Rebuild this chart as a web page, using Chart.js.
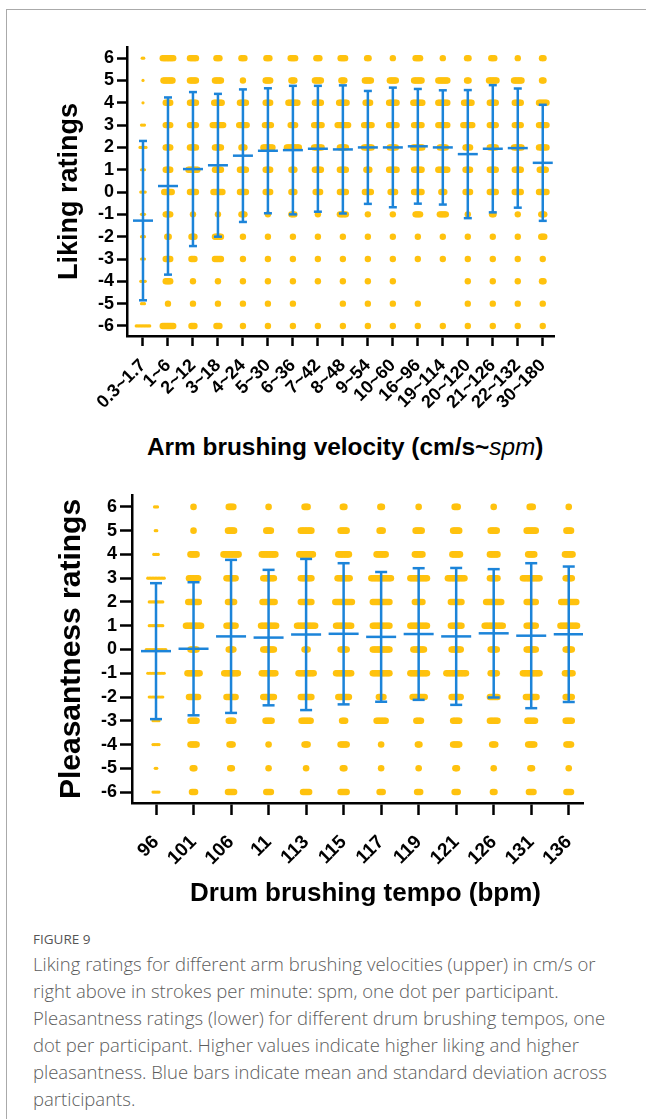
<!DOCTYPE html>
<html>
<head>
<meta charset="utf-8">
<script src="https://cdn.jsdelivr.net/npm/chart.js@4"></script>
<style>
  body { margin: 0; background: #fff; width: 646px; height: 1119px; position: relative; overflow: hidden; font-family: Arial, "Liberation Sans", sans-serif; }
  #frame { position: absolute; left: 6px; top: 9px; width: 640px; height: 1120px; border-top: 1.5px solid #aaa; border-left: 1.5px solid #aaa; }
  canvas { position: absolute; left: 0; }
  #top { top: 0; }
  #bottom { top: 460px; }
  .xtitle { position: absolute; font-weight: bold; color: #000; white-space: nowrap; }
  .xtitle i { font-weight: normal; }
  #caption { position: absolute; left: 33px; top: 930px; font-family: "Open Sans", Lato, sans-serif; color: #5c5c5c; }
  #caption .fig { font-size: 13.5px; color: #555; font-weight: 400; margin-bottom: 2px; }
  #caption .txt { font-size: 18.5px; font-weight: 300; line-height: 27px; white-space: nowrap; }
</style>
</head>
<body>
<div id="frame"></div>
<canvas id="top" width="646" height="430"></canvas>
<div class="xtitle" style="left:147px; top:433px; font-size:24.4px;">Arm brushing velocity (cm/s~<i>spm</i>)</div>
<canvas id="bottom" width="646" height="420"></canvas>
<div class="xtitle" style="left:190px; top:877px; font-size:26px;">Drum brushing tempo (bpm)</div>
<div id="caption">
  <div class="fig">FIGURE 9</div>
  <div class="txt">Liking ratings for different arm brushing velocities (upper) in cm/s or<br>right above in strokes per minute: spm, one dot per participant.<br>Pleasantness ratings (lower) for different drum brushing tempos, one<br>dot per participant. Higher values indicate higher liking and higher<br>pleasantness. Blue bars indicate mean and standard deviation across<br>participants.</div>
</div>
<script>
const ratingLevels = [6, 5, 4, 3, 2, 1, 0, -1, -2, -3, -4, -5, -6]
const yTicks = [-6, -5, -4, -3, -2, -1, 0, 1, 2, 3, 4, 5, 6]

// upper panel: arm brushing velocity (cm/s ~ spm)
const armLabels = ['0.3~1.7', '1~6', '2~12', '3~18', '4~24', '5~30', '6~36', '7~42', '8~48',
  '9~54', '10~60', '16~96', '19~114', '20~120', '21~126', '22~132', '30~180']
const armMean = [-1.28, 0.27, 1.03, 1.2, 1.63, 1.85, 1.88, 1.94, 1.91, 2.0, 2.0, 2.05, 2.0, 1.7, 1.94, 1.97, 1.31]
const armSD = [3.57, 3.97, 3.45, 3.2, 2.97, 2.8, 2.88, 2.82, 2.87, 2.53, 2.68, 2.57, 2.56, 2.87, 2.85, 2.67, 2.6]
// dots per rating level, listed from 6 down to -6
const armCounts = [
  [2, 1, 1, 3, 5, 3, 4, 3, 3, 3, 4, 3, 10],
  [8, 7, 4, 4, 4, 4, 6, 4, 2, 4, 4, 1, 8],
  [5, 5, 5, 5, 5, 7, 5, 1, 3, 3, 1, 1, 3],
  [3, 5, 6, 8, 5, 5, 7, 1, 5, 5, 1, 1, 3],
  [3, 1, 5, 6, 3, 5, 5, 3, 1, 1, 1, 1, 1],
  [3, 4, 4, 5, 7, 4, 4, 1, 1, 1, 1, 1, 1],
  [4, 3, 7, 4, 9, 3, 3, 3, 1, 1, 1, 1, 1],
  [3, 5, 5, 6, 6, 5, 4, 1, 1, 1, 1, 0, 1],
  [4, 3, 6, 8, 5, 5, 5, 5, 1, 1, 1, 1, 1],
  [2, 5, 4, 6, 6, 3, 5, 1, 1, 1, 1, 1, 1],
  [1, 5, 6, 6, 5, 6, 4, 1, 1, 1, 1, 1, 1],
  [4, 6, 7, 6, 7, 6, 6, 4, 1, 1, 0, 1, 1],
  [1, 7, 7, 7, 5, 7, 3, 5, 1, 1, 0, 0, 1],
  [2, 2, 6, 7, 4, 4, 4, 1, 1, 1, 1, 1, 1],
  [3, 6, 5, 5, 5, 5, 5, 2, 1, 1, 1, 1, 1],
  [1, 6, 5, 5, 6, 5, 5, 1, 1, 1, 1, 1, 1],
  [2, 2, 6, 6, 6, 5, 6, 3, 3, 1, 2, 1, 1]
]

// lower panel: drum brushing tempo (bpm)
const drumLabels = ['96', '101', '106', '11', '113', '115', '117', '119', '121', '126', '131', '136']
const drumMean = [-0.07, 0.03, 0.55, 0.5, 0.63, 0.66, 0.53, 0.65, 0.55, 0.68, 0.58, 0.64]
const drumSD = [2.86, 2.8, 3.22, 2.85, 3.18, 2.97, 2.73, 2.77, 2.88, 2.7, 3.05, 2.85]
const drumCounts = [
  [3, 2, 4, 12, 10, 10, 14, 12, 10, 5, 5, 2, 5],
  [1, 1, 5, 7, 8, 11, 5, 9, 7, 5, 5, 2, 3],
  [4, 5, 11, 7, 5, 7, 4, 10, 7, 4, 3, 2, 5],
  [1, 4, 10, 8, 9, 11, 8, 10, 8, 5, 1, 1, 4],
  [3, 8, 10, 8, 8, 13, 3, 11, 8, 7, 3, 1, 5],
  [2, 5, 8, 9, 12, 11, 5, 11, 8, 3, 5, 2, 5],
  [2, 3, 7, 14, 12, 12, 12, 12, 4, 7, 1, 1, 3],
  [1, 5, 6, 12, 6, 12, 8, 12, 9, 4, 2, 1, 3],
  [3, 5, 6, 12, 8, 8, 7, 14, 7, 5, 5, 2, 3],
  [1, 5, 6, 6, 11, 13, 5, 5, 6, 6, 3, 1, 2],
  [3, 7, 5, 12, 7, 7, 7, 12, 8, 6, 5, 2, 4],
  [1, 4, 6, 5, 11, 12, 5, 6, 5, 5, 4, 1, 4]
]

const orange = '#ffc20e'
const blue = '#1c84d9'
const axisFont = 'Arial, "Liberation Sans", sans-serif'

// spread the dots of one rating level side by side around the category
function dotPoints(counts, step, first) {
  const pts = []
  counts.forEach((col, c) => {
    const i = c + first
    col.forEach((n, j) => {
      for (let k = 0; k < n; k++) {
        pts.push({x: i + (k - (n - 1) / 2) * step, y: ratingLevels[j]})
      }
    })
  })
  return pts
}

function barPoints(mean, sd) {
  const pts = []
  mean.forEach((m, i) => {
    pts.push({x: i, y: m - sd[i]}, {x: i, y: m + sd[i]}, {x: i, y: null})
  })
  return pts
}

function makeChart(id, cfg) {
  const caps = []
  cfg.mean.forEach((m, i) => {
    caps.push({x: i, y: m - cfg.sd[i]}, {x: i, y: m + cfg.sd[i]})
  })
  return new Chart(document.getElementById(id), {
    type: 'scatter',
    data: {
      datasets: [
        {
          data: cfg.mean.map((m, i) => ({x: i, y: m})),
          pointStyle: 'line', pointRadius: cfg.meanR, borderWidth: 2.5,
          borderColor: blue, backgroundColor: blue, order: 0
        },
        {
          data: caps,
          pointStyle: 'line', pointRadius: cfg.capR, borderWidth: 2.5,
          borderColor: blue, backgroundColor: blue, order: 1
        },
        {
          data: barPoints(cfg.mean, cfg.sd),
          showLine: true, pointRadius: 0, borderWidth: 2.5, spanGaps: false,
          borderColor: blue, order: 2
        },
        {
          data: dotPoints(cfg.counts.slice(1), cfg.step, 1),
          pointStyle: 'circle', pointRadius: cfg.dotR, borderWidth: 0,
          backgroundColor: orange, order: 3
        },
        {
          data: dotPoints(cfg.counts.slice(0, 1), cfg.step, 0),
          pointStyle: 'circle', pointRadius: 1.6, borderWidth: 0,
          backgroundColor: orange, order: 4
        }
      ]
    },
    options: {
      responsive: false,
      animation: false,
      events: [],
      layout: { padding: cfg.padding },
      plugins: { legend: { display: false }, tooltip: { enabled: false } },
      scales: {
        x: {
          type: 'linear',
          min: cfg.xMin, max: cfg.xMax,
          afterBuildTicks: (scale) => { scale.ticks = cfg.labels.map((l, i) => ({value: i})) },
          afterFit: (scale) => { scale.height = cfg.xHeight },
          grid: { drawOnChartArea: false, drawTicks: true, tickLength: cfg.tickLen, tickWidth: 2.5, tickColor: '#000' },
          border: { display: true, width: 2.5, color: '#000' },
          ticks: {
            autoSkip: false, minRotation: 45, maxRotation: 45, padding: cfg.xPad,
            color: '#000', font: { family: axisFont, weight: 'bold', size: cfg.xFont },
            callback: (v) => cfg.labels[v]
          }
        },
        y: {
          min: cfg.yMin, max: cfg.yMax,
          afterBuildTicks: (scale) => { scale.ticks = yTicks.map((v) => ({value: v})) },
          afterFit: (scale) => { scale.width = cfg.yWidth },
          grid: { drawOnChartArea: false, drawTicks: true, tickLength: cfg.tickLen, tickWidth: 2.5, tickColor: '#000' },
          border: { display: true, width: 2.5, color: '#000' },
          ticks: {
            autoSkip: false, padding: 3, color: '#000',
            font: { family: axisFont, weight: 'bold', size: 18 }
          },
          title: {
            display: true, text: cfg.yTitle, color: '#000', padding: 0,
            font: { family: axisFont, weight: 'bold', size: cfg.yTitleSize, lineHeight: 1.2 }
          }
        }
      }
    }
  })
}

makeChart('top', {
  labels: armLabels, mean: armMean, sd: armSD, counts: armCounts,
  yTitle: 'Liking ratings', yTitleSize: 27,
  xMin: -0.64, xMax: 16.45, yMin: -6.45, yMax: 6.5,
  step: 0.06, dotR: 3.2, meanR: 10, capR: 4, tickLen: 10,
  padding: { top: 47, right: 92, left: 53, bottom: 0 },
  yWidth: 74, xHeight: 94, xPad: 9, xFont: 18
})

makeChart('bottom', {
  labels: drumLabels, mean: drumMean, sd: drumSD, counts: drumCounts,
  yTitle: 'Pleasantness ratings', yTitleSize: 30,
  xMin: -0.64, xMax: 11.38, yMin: -6.46, yMax: 6.5,
  step: 0.04, dotR: 3.3, meanR: 15, capR: 6, tickLen: 12,
  padding: { top: 35, right: 63, left: 54, bottom: 0 },
  yWidth: 78, xHeight: 77, xPad: 16, xFont: 19
})
</script>
</body>
</html>
